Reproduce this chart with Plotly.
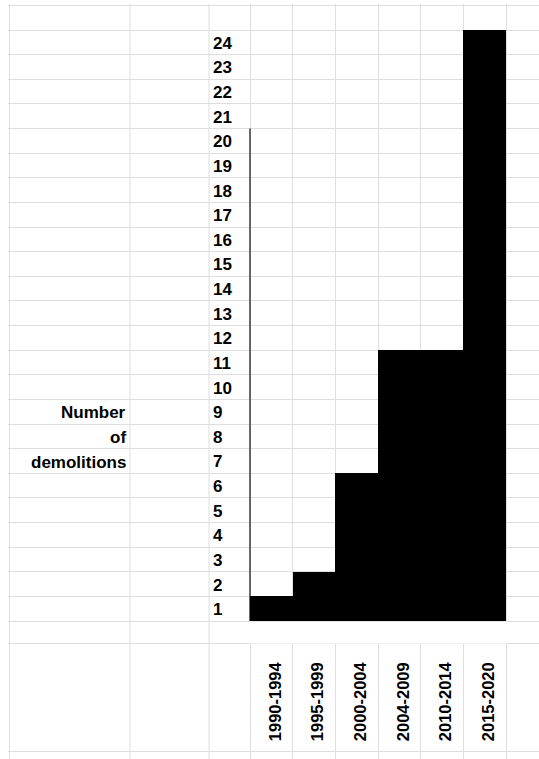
import plotly.graph_objects as go

# ---- data ----
periods = ["1990-1994", "1995-1999", "2000-2004", "2004-2009", "2010-2014", "2015-2020"]
demolitions = [1, 2, 6, 11, 11, 24]
y_labels = [str(k) for k in range(1, 25)]
title_lines = ["Number", "of", "demolitions"]
title_rows = [9, 8, 7]

# ---- layout constants (pixel calibration of the spreadsheet) ----
W, H = 539, 759
ML, MT = 8, 4
COLW = 42.667          # px per bar column
X0PX = 271.33          # px centre of first bar
ROWH = 24.625          # px per row
Y0PX = 621.0           # px of baseline (value 0)

def px2x(p):
    return (p - X0PX) / COLW

def px2y(p):
    return (Y0PX - p) / ROWH

GRID = "#dedede"
FONT = "Liberation Sans, Arial, Helvetica, sans-serif"

fig = go.Figure()
fig.add_trace(go.Bar(
    x=list(range(len(periods))),
    y=demolitions,
    width=1.0,
    marker=dict(color="black", line=dict(width=0)),
    hoverinfo="skip",
    showlegend=False,
))

# spreadsheet column borders (px) and row borders
left_cols_px = [9.5, 130, 209]
chart_cols_px = [250.3 + COLW * i for i in range(7)]
row_vals = list(range(0, 26)) + [px2y(643), px2y(751)]

fig.update_layout(
    width=W, height=H,
    margin=dict(l=ML, r=0, t=MT, b=0, pad=0),
    paper_bgcolor="white", plot_bgcolor="white",
    bargap=0,
    xaxis=dict(
        range=[px2x(ML), px2x(W)],
        tickmode="array",
        tickvals=list(range(len(periods))),
        ticktext=periods,
        tickangle=-90,
        ticklabelshift=4,
        tickfont=dict(family=FONT, size=16.5, color="black", weight="bold"),
        showgrid=False, zeroline=False, showline=False, ticks="",
        anchor="free", position=(H - 658) / (H - MT),
        minor=dict(tickmode="array", tickvals=[px2x(p) for p in chart_cols_px],
                   showgrid=True, gridcolor=GRID, gridwidth=1, ticks=""),
        fixedrange=True,
    ),
    yaxis=dict(
        range=[px2y(H), px2y(MT)],
        tickmode="array",
        tickvals=[k - 0.52 for k in range(1, 25)],
        ticktext=y_labels,
        tickfont=dict(family=FONT, size=17, color="black", weight="bold"),
        ticklabelposition="inside",
        showgrid=False, zeroline=False, showline=False, ticks="",
        anchor="free", position=(209 - ML) / (W - ML),
        minor=dict(tickmode="array", tickvals=row_vals,
                   showgrid=True, gridcolor=GRID, gridwidth=1, ticks=""),
        fixedrange=True,
    ),
)

# spreadsheet columns left of the chart
for p in left_cols_px:
    fig.add_shape(type="line", xref="x", yref="paper",
                  x0=px2x(p), x1=px2x(p), y0=0, y1=1,
                  line=dict(color=GRID, width=1), layer="below")

# blank strip under the chart (cells without borders)
fig.add_shape(type="rect", xref="x", yref="y",
              x0=px2x(249.5), x1=px2x(507), y0=px2y(643.6), y1=px2y(621.7),
              fillcolor="white", line=dict(width=0), layer="between")
# chart's axis line
fig.add_shape(type="line", xref="x", yref="y",
              x0=-0.5, x1=-0.5, y0=0, y1=20,
              line=dict(color="#3a3a3a", width=1.5), layer="between")

for txt, row in zip(title_lines, title_rows):
    fig.add_annotation(x=px2x(128), y=row - 0.55, xref="x", yref="y",
                       text=txt, showarrow=False, xanchor="right", yanchor="middle",
                       font=dict(family=FONT, size=17, color="black", weight="bold"))

fig.write_html("out.html", config={"displayModeBar": False},
               post_script="document.body.style.margin='0';")
